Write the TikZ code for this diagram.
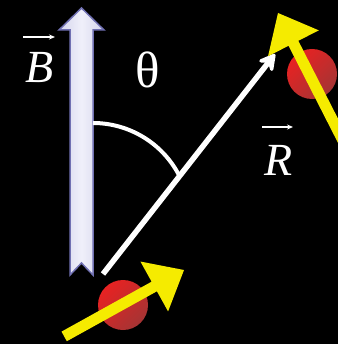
\documentclass[tikz,border=0pt]{standalone}
\usepackage{fontspec}
\setmainfont{Liberation Serif}
\usetikzlibrary{arrows.meta,calc}
\definecolor{bfill}{RGB}{240,240,250}
\definecolor{bedge}{RGB}{212,212,236}
\definecolor{bline}{RGB}{112,112,178}
\definecolor{ylw}{RGB}{245,235,0}
\definecolor{redA}{RGB}{232,34,34}
\definecolor{redB}{RGB}{165,52,52}
\begin{document}
\begin{tikzpicture}[x=1pt,y=-1pt,
  lbl/.style={text=white, inner sep=0pt, font=\fontsize{46}{46}\selectfont\itshape},
  greek/.style={text=white, inner sep=0pt, font=\fontsize{51}{51}\selectfont},
  vecarrow/.style={white, line width=1.4pt, -{Stealth[length=6pt,width=5pt]}},
  ball/.style={top color=redA, middle color=redA, bottom color=redB, shading angle=45},
  spinarrow/.pic={\fill[ylw] (0,0) -- (-34,28.5) -- (-34,5.5) -- (-#1,5.5) -- (-#1,-5.5) -- (-34,-5.5) -- (-34,-28.5) -- cycle;},
  rvec/.style={white, line width=5.5pt, -{Stealth[round,length=21pt,width=23pt,inset=8pt]}},
  anglearc/.style={white, line width=4pt}
]
\fill[black] (0,0) rectangle (338,344);
\useasboundingbox (0,0) rectangle (338,344);
\clip (0,0) rectangle (338,344);

% magnetic field arrow B
\draw[bline, line width=1.5pt, left color=bedge, right color=bedge, middle color=bfill]
  (70,275) -- (70,30) -- (59,30) -- (81.5,8) -- (104,30) -- (93,30) -- (93,275) -- (81.5,263) -- cycle;

% angle arc
\coordinate (arcS) at (93,123);
\draw[anglearc] (arcS) arc[start angle=-90, end angle=-27.6, radius=97];

% vector R
\coordinate (rS) at (103,274);
\coordinate (rE) at (275,54);
\draw[rvec] (rS) -- (rE);

% balls
\shade[ball] (123,305) circle[radius=25];
\shade[ball] (312,74) circle[radius=25];

% spin arrows
\coordinate (s1) at (184,270);
\coordinate (s2) at (278,13);
\pic[rotate=29] at (s1) {spinarrow=137};
\pic[rotate=117] at (s2) {spinarrow=220};

% labels
\node[lbl] (lblB) at (40,68) {B};
\node[greek] (lblT) at (148,70) {θ};
\node[lbl] (lblR) at (279,160) {R};
\coordinate (vB1) at (23,37);
\coordinate (vB2) at (55,37);
\coordinate (vR1) at (262,127);
\coordinate (vR2) at (293,127);
\draw[vecarrow] (vB1) -- (vB2);
\draw[vecarrow] (vR1) -- (vR2);
\end{tikzpicture}
\end{document}
